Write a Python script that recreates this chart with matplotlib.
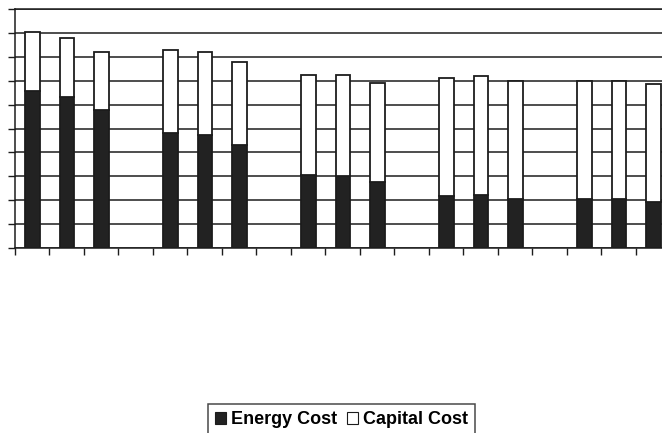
import numpy as np
import matplotlib
matplotlib.use("Agg")
import matplotlib.pyplot as plt
from matplotlib.patches import Patch

# Nineteen category slots; every fourth slot is an empty spacer between groups
slots = [f"S{i}" for i in range(19)]
energy_cost = [6.58, 6.30, 5.78, np.nan,
               4.80, 4.71, 4.33, np.nan,
               3.06, 3.00, 2.75, np.nan,
               2.17, 2.22, 2.03, np.nan,
               2.03, 2.07, 1.93]
total_cost = [9.04, 8.79, 8.18, np.nan,
              8.28, 8.18, 7.78, np.nan,
              7.22, 7.22, 6.90, np.nan,
              7.13, 7.19, 7.00, np.nan,
              7.00, 7.00, 6.86]
capital_cost = [t - e for t, e in zip(total_cost, energy_cost)]

y_max = 10
y_step = 1

W, H = 662, 433
fig = plt.figure(figsize=(W / 100, H / 100), dpi=100)
fig.patch.set_facecolor("white")

left_px, right_px = 14.5, 14.5 + 34.5 * len(slots)
top_px, bottom_px = 9, 248
ax = fig.add_axes([left_px / W, 1 - bottom_px / H,
                   (right_px - left_px) / W, (bottom_px - top_px) / H])

x = np.arange(len(slots))
line_c = "#1c1c1c"
ax.bar(x + 0.02, energy_cost, width=0.43, color="#222222", edgecolor=line_c,
       linewidth=1.3, zorder=3)
ax.bar(x + 0.02, capital_cost, bottom=energy_cost, width=0.43, color="white",
       edgecolor=line_c, linewidth=1.3, zorder=3)

ax.set_xlim(-0.5, len(slots) - 0.5)
ax.set_ylim(0, y_max)
ax.set_yticks(np.arange(0, y_max + y_step, y_step))
ax.set_yticklabels([])
ax.set_xticks(np.arange(len(slots) + 1) - 0.5)
ax.set_xticklabels([])
ax.tick_params(axis="both", direction="out", length=5, width=1.0,
               color=line_c)
ax.yaxis.grid(True, color=line_c, linewidth=1.1)
ax.set_axisbelow(True)
for side in ("left", "bottom", "top"):
    ax.spines[side].set_color(line_c)
    ax.spines[side].set_linewidth(1.1)
ax.spines["right"].set_visible(False)

handles = [Patch(facecolor="#222222", edgecolor=line_c, linewidth=0.8),
           Patch(facecolor="white", edgecolor=line_c, linewidth=0.8)]
leg = fig.legend(handles, ["Energy Cost", "Capital Cost"],
                 loc="upper center", bbox_to_anchor=(341.5 / W, 1 - 404 / H),
                 ncol=2, frameon=True, fancybox=False, handlelength=0.62,
                 handleheight=0.62, handletextpad=0.3, columnspacing=0.5,
                 borderpad=0.4, borderaxespad=0,
                 prop={"family": "Liberation Sans", "weight": "bold",
                       "size": 13})
leg.get_frame().set_edgecolor(line_c)
leg.get_frame().set_linewidth(1.1)

fig.savefig("out.png", dpi=100, facecolor="white")
